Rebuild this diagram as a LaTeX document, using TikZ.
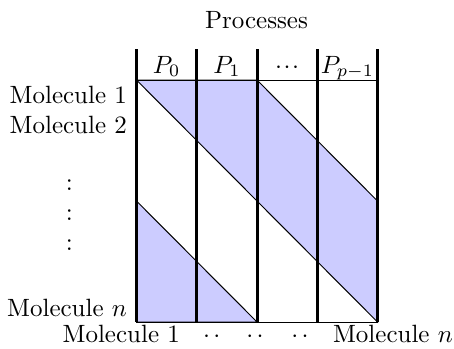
\documentclass[tikz,border=0pt]{standalone}
\begin{document}
\begin{tikzpicture}[x=0.4pt,y=-0.4pt,
  band/.style={fill=blue!20,draw=black,line width=0.4pt},
  sep/.style={line width=1.2pt},
  frame/.style={line width=0.4pt},
  lbl/.style={inner sep=0pt,outer sep=0pt}]
\useasboundingbox (0,0) rectangle (454,348);
% grid corners (column width 60.25 px)
\coordinate (A00) at (136.5,80);
\coordinate (A20) at (257,80);
\coordinate (A42) at (377.5,201);
\coordinate (A44) at (377.5,322);
\coordinate (A02) at (136.5,201);
\coordinate (A24) at (257,322);
\coordinate (A04) at (136.5,322);
% shaded bands
\draw[band] (A00) -- (A20) -- (A42) -- (A44) -- cycle;
\draw[band] (A02) -- (A24) -- (A04) -- cycle;
% frame
\draw[frame] (A00) rectangle (A44);
% thick separators
\foreach \i/\x in {0/136.5,1/196.75,2/257,3/317.25,4/377.5}{
  \coordinate (T\i) at (\x,49);
  \coordinate (B\i) at (\x,322);
  \draw[sep] (T\i) -- (B\i);
}
% labels
\node[lbl,anchor=base] (proc) at (256.5,28) {Processes};
\node[lbl,anchor=base] (p0) at (166.6,73) {$P_0$};
\node[lbl,anchor=base] (p1) at (226.9,73) {$P_1$};
\node[lbl,anchor=base] (pd) at (287.1,73) {${\cdot}\hspace{0.6pt}{\cdot}\hspace{0.6pt}{\cdot}$};
\node[lbl,anchor=base] (pp) at (347.4,73) {$P_{p-1}$};
\node[lbl,anchor=base east] (m1) at (127,103) {Molecule 1};
\node[lbl,anchor=base east] (m2) at (127,133) {Molecule 2};
\node[lbl] (c1) at (69.3,185.5) {:};
\node[lbl] (c2) at (69.3,215.5) {:};
\node[lbl] (c3) at (69.3,245.5) {:};
\node[lbl,anchor=base east] (mn) at (127,316.7) {Molecule $n$};
\node[lbl,anchor=base] (b1) at (121.3,342) {Molecule 1};
\node[lbl,anchor=base] (d1) at (211.7,342) {${\cdot}\hspace{1.3pt}{\cdot}$};
\node[lbl,anchor=base] (d2) at (255,342) {${\cdot}\hspace{1.3pt}{\cdot}$};
\node[lbl,anchor=base] (d3) at (300,342) {${\cdot}\hspace{1.3pt}{\cdot}$};
\node[lbl,anchor=base] (bn) at (393,342) {Molecule $n$};
\end{tikzpicture}
\end{document}
